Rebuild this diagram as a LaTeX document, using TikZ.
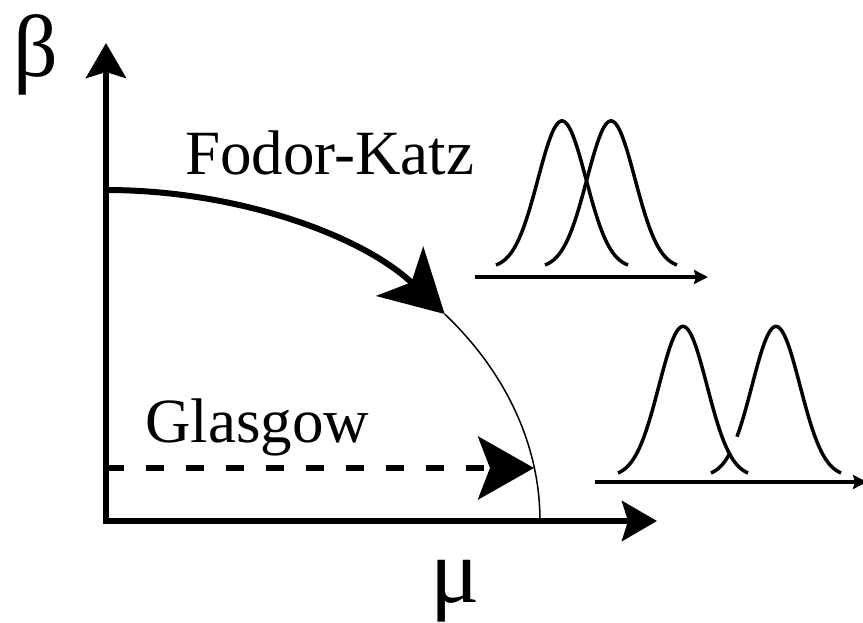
\documentclass[tikz,border=0pt]{standalone}
\usepackage{fontspec}
\setmainfont{Liberation Serif}
\usetikzlibrary{arrows.meta}
\begin{document}
\begin{tikzpicture}[x=1pt,y=-1pt,
 axis/.style={line width=6pt, -{Stealth[length=35pt,width=40pt,inset=6pt]}},
 gauss/.style={line width=3.5pt},
 gaxis/.style={line width=3.5pt,-{Stealth[length=14pt,width=14pt,inset=2pt]}},
 lbl/.style={inner sep=0pt, font=\fontsize{63}{70}\selectfont, anchor=base west},
]
\useasboundingbox (0,0) rectangle (863,623);
% axes
\coordinate (O) at (106,521);
\coordinate (ytop) at (106,43);
\coordinate (xend) at (657,521);
\draw[axis] ([yshift=3pt]O) -- (ytop);
\draw[axis] ([xshift=-3pt]O) -- (xend);
\node[inner sep=0pt, anchor=base, font=\fontsize{88}{90}\selectfont] (beta) at (36,77) {β};
\node[inner sep=0pt, anchor=base, font=\fontsize{92}{92}\selectfont] (mu) at (455,602) {μ};
% transition line
\coordinate (fkstart) at (106,190);
\draw[line width=6pt, -{Stealth[length=62pt,width=68pt,inset=16pt]}] (fkstart)
  arc[start angle=90, end angle=38.7, x radius=434pt, y radius=331pt] coordinate (fkend);
\draw[line width=1.5pt] (fkend) arc[start angle=38.7, end angle=0, x radius=434pt, y radius=331pt];
% Glasgow
\coordinate (glstart) at (106,468);
\coordinate (glend) at (534,468);
\draw[line width=6pt, dash pattern=on 18pt off 22pt, -{Stealth[length=56pt,width=63pt,inset=12pt]}] (glstart) -- (glend);
\node[lbl] (fk) at (185,175) {Fodor-Katz};
\node[lbl] (gl) at (145,442) {Glasgow};
% upper gaussians
\coordinate (ua) at (475,277);
\coordinate (ub) at (708,277);
\draw[gaxis] (ua) -- (ub);
\draw[gauss] plot[domain=-66:66, samples=90, smooth] ({562+\x},{265-147.4*(exp(-((\x)^2)/1152)-0.0228)});
\draw[gauss] plot[domain=-66:66, samples=90, smooth] ({611+\x},{265-147.4*(exp(-((\x)^2)/1152)-0.0228)});
% lower gaussians
\coordinate (la) at (595,482);
\coordinate (lb) at (867,482);
\draw[gaxis] (la) -- (lb);
\draw[gauss] plot[domain=-65:65, samples=90, smooth] ({683+\x},{473-150.4*(exp(-((\x)^2)/1152)-0.0255)});
\draw[gauss] plot[domain=-65:-46, samples=20, smooth] ({776+\x},{473-150.4*(exp(-((\x)^2)/1152)-0.0255)});
\draw[gauss] plot[domain=-39:65, samples=80, smooth] ({776+\x},{473-150.4*(exp(-((\x)^2)/1152)-0.0255)});
\end{tikzpicture}
\end{document}
